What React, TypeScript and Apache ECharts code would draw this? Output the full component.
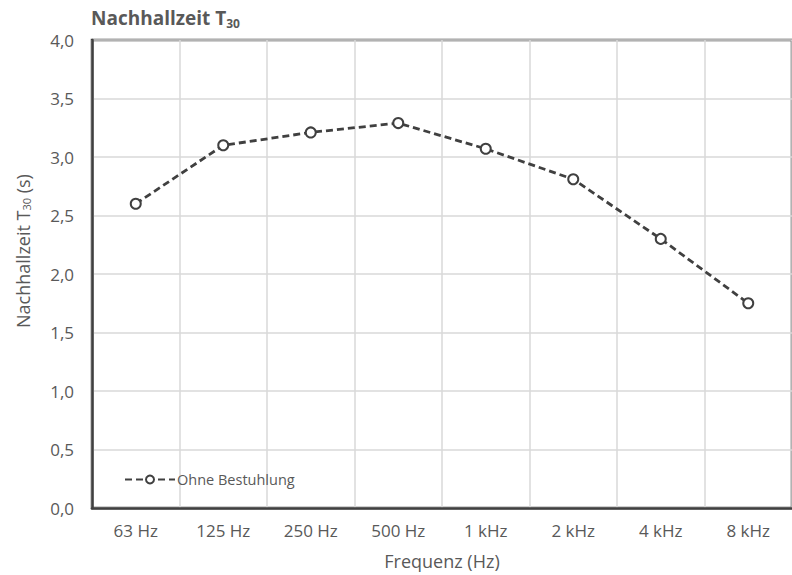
import React, { useEffect, useRef } from "react";
import * as echarts from "echarts";

const frequencies = ["63 Hz", "125 Hz", "250 Hz", "500 Hz", "1 kHz", "2 kHz", "4 kHz", "8 kHz"];
const reverbOhneBestuhlung = [2.6, 3.1, 3.21, 3.29, 3.07, 2.81, 2.3, 1.75];
const seriesName = "Ohne Bestuhlung";

const FONT = "'Open Sans', 'Noto Sans', sans-serif";
const TEXT = "#595959";
const DARK = "#404040";

export default function App() {
  const ref = useRef<HTMLDivElement>(null);

  useEffect(() => {
    if (!ref.current) return;
    const chart = echarts.init(ref.current, undefined, { renderer: "svg" });
    chart.setOption({
      animation: false,
      backgroundColor: "#ffffff",
      textStyle: { fontFamily: FONT, color: TEXT },
      title: {
        text: "Nachhallzeit T{sub|30}",
        left: 86,
        top: 2,
        textStyle: {
          fontFamily: FONT,
          fontSize: 19,
          fontWeight: "bold",
          color: TEXT,
          rich: {
            sub: { fontSize: 12, fontWeight: "bold", color: TEXT, fontFamily: FONT, verticalAlign: "bottom", padding: [10, 0, 0, 0] },
          },
        },
      },
      legend: {
        left: 119,
        top: 467,
        itemWidth: 50,
        itemHeight: 10,
        itemGap: 4,
        textStyle: { fontFamily: FONT, fontSize: 14.5, color: TEXT, padding: [0, 0, 0, -3] },
        data: [seriesName],
      },
      grid: {
        left: 92,
        top: 40,
        width: 708,
        height: 470,
        show: true,
        borderColor: DARK,
        borderWidth: 2.5,
        containLabel: false,
      },
      xAxis: {
        type: "category",
        data: frequencies,
        boundaryGap: true,
        name: "Frequenz (Hz)",
        nameLocation: "middle",
        nameGap: 44,
        nameTextStyle: { fontFamily: FONT, fontSize: 18, color: TEXT },
        axisLine: { show: true, lineStyle: { color: DARK, width: 2.5 } },
        axisTick: { show: false },
        axisLabel: { fontFamily: FONT, fontSize: 17, color: TEXT, margin: 14 },
        splitLine: { show: true, lineStyle: { color: "#d9d9d9", width: 1.5 } },
      },
      yAxis: {
        type: "value",
        min: 0,
        max: 4,
        interval: 0.5,
        name: "Nachhallzeit T{sub|30} (s)",
        nameLocation: "middle",
        nameGap: 60,
        nameTextStyle: {
          fontFamily: FONT,
          fontSize: 18,
          color: TEXT,
          padding: [0, 0, 0, 46],
          rich: {
            sub: { fontSize: 11, color: TEXT, fontFamily: FONT, verticalAlign: "bottom", padding: [8, 0, 0, 0] },
          },
        },
        axisLine: { show: true, lineStyle: { color: DARK, width: 2.5 } },
        axisTick: { show: false },
        axisLabel: {
          fontFamily: FONT,
          fontSize: 17,
          color: TEXT,
          margin: 18,
          formatter: (v: number) => v.toFixed(1).replace(".", ","),
        },
        splitLine: { show: true, lineStyle: { color: "#d9d9d9", width: 1.5 } },
      },
      series: [
        {
          name: seriesName,
          type: "line",
          data: reverbOhneBestuhlung,
          symbol: "emptyCircle",
          symbolSize: 10,
          itemStyle: { color: DARK, borderColor: DARK, borderWidth: 1.6 },
          lineStyle: { color: DARK, width: 2.8, type: [7, 4] },
          color: DARK,
        },
      ],
    });
    return () => chart.dispose();
  }, []);

  return <div ref={ref} style={{ width: 792, height: 575, position: "absolute", left: 0, top: 0 }} />;
}
